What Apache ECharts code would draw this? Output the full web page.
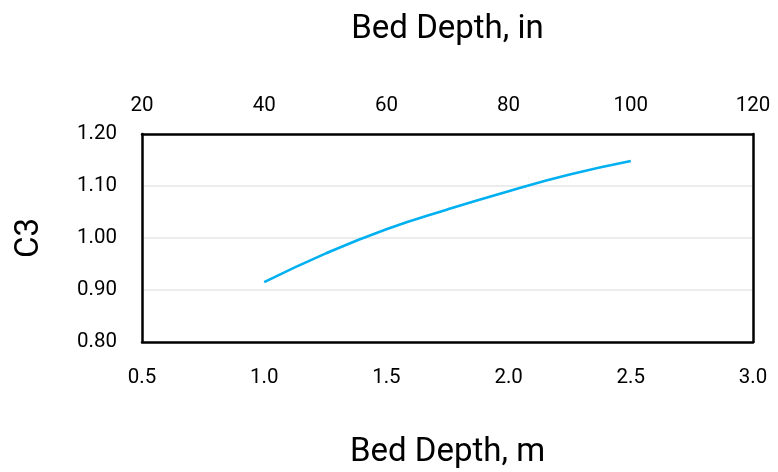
<!DOCTYPE html>
<html><head><meta charset="utf-8">
<script src="https://cdn.jsdelivr.net/npm/echarts@6/dist/echarts.min.js"></script>
<style>html,body{margin:0;padding:0;background:#fff}#c{width:778px;height:472px}</style>
</head><body><div id="c"></div>
<script>
const depthM = [1.0, 1.25, 1.5, 1.75, 2.0, 2.25, 2.5];
const c3 = [0.915, 0.970, 1.017, 1.055, 1.090, 1.122, 1.148];
const bottomTitle = 'Bed Depth, m';
const topTitle = 'Bed Depth, in';
const yTitle = 'C3';

const chart = echarts.init(document.getElementById('c'));
const font = 'Roboto';
const frame = {show: true, onZero: false, lineStyle: {color: '#000', width: 2.5}};
chart.setOption({
  animation: false,
  grid: {left: 142, right: 25, top: 134, bottom: 130},
  xAxis: [
    {type: 'value', position: 'bottom', min: 0.5, max: 3.0, interval: 0.5,
     name: bottomTitle, nameLocation: 'middle', nameGap: 94,
     nameTextStyle: {fontFamily: font, fontSize: 33, color: '#000'},
     axisLine: frame, axisTick: {show: false}, splitLine: {show: false},
     axisLabel: {fontFamily: font, fontSize: 20.5, color: '#000', margin: 25, formatter: v => v.toFixed(1)}},
    {type: 'value', position: 'top', min: 20, max: 120, interval: 20,
     name: topTitle, nameLocation: 'middle', nameGap: 88,
     nameTextStyle: {fontFamily: font, fontSize: 33, color: '#000'},
     axisLine: frame, axisTick: {show: false}, splitLine: {show: false},
     axisLabel: {fontFamily: font, fontSize: 20.5, color: '#000', margin: 18}}
  ],
  yAxis: [
    {type: 'value', min: 0.8, max: 1.2, interval: 0.1, position: 'left',
    name: yTitle, nameLocation: 'middle', nameGap: 96,
    nameTextStyle: {fontFamily: font, fontSize: 33, color: '#000'},
    axisLine: frame, axisTick: {show: false},
    splitLine: {lineStyle: {color: '#ececec', width: 2}},
    axisLabel: {fontFamily: font, fontSize: 20.5, color: '#000', margin: 25, formatter: v => v.toFixed(2)}},
    {type: 'value', min: 0.8, max: 1.2, interval: 0.1, position: 'right',
    axisLine: frame, axisTick: {show: false}, axisLabel: {show: false}, splitLine: {show: false}}
  ],
  series: [{type: 'line', xAxisIndex: 0, yAxisIndex: 0, smooth: true, showSymbol: false,
    lineStyle: {color: '#00b0f0', width: 2.6},
    data: depthM.map((x, i) => [x, c3[i]])}]
});
</script></body></html>
